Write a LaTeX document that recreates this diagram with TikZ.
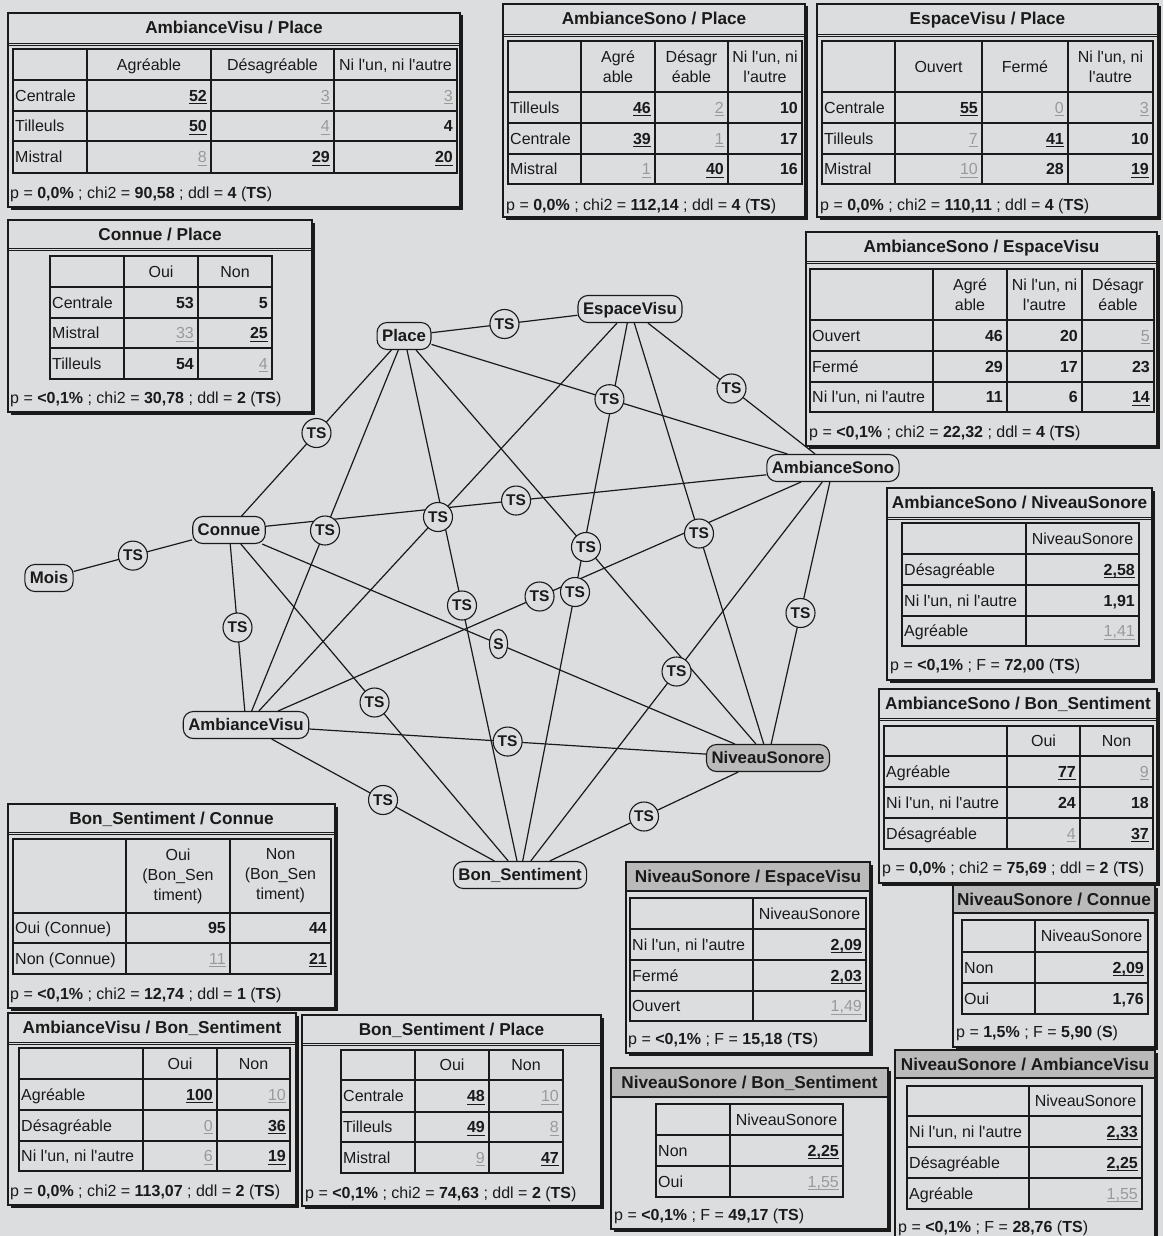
\documentclass[tikz,border=0pt]{standalone}
\usepackage{fontspec}
\defaultfontfeatures[\rmfamily,\sffamily]{}
\setmainfont{Liberation Sans}
\usetikzlibrary{shapes.geometric}
\definecolor{bgc}{HTML}{DCDDDF}
\definecolor{ink}{HTML}{1A1A1A}
\definecolor{numg}{HTML}{9A9A9A}
\definecolor{bandg}{HTML}{BABABA}
\newcounter{cc}
\newcommand{\ulx}[1]{\setbox0=\hbox{#1}\rlap{\copy0}\rule[-3pt]{\wd0}{1.1pt}}
\newcommand{\vB}[1]{\ulx{\textbf{#1}}}
\newcommand{\vN}[1]{\textbf{#1}}
\newcommand{\vG}[1]{\textcolor{numg}{\ulx{#1}}}
\newcommand{\cLb}[3]{\stepcounter{cc}\node[lbl] (c\arabic{cc}) at (#1,#2) {#3};}
\newcommand{\cVl}[3]{\stepcounter{cc}\node[vl] (c\arabic{cc}) at (#1,#2) {#3};}
\newcommand{\cHd}[3]{\stepcounter{cc}\node[hd] (c\arabic{cc}) at (#1,#2) {#3};}
\newcommand{\cMH}[3]{\stepcounter{cc}\node[mh] (c\arabic{cc}) at (#1,#2) {#3};}
\newcommand{\tbFrame}[6]{%
  \fill[ink] ({#1+2.5},{#2+2.5}) rectangle ({#3+2.5},{#4+2.5});
  \draw[fr] (#1,#2) rectangle (#3,#4);
  \draw[ink,line width=0.9pt] (#1,#5) -- (#3,#5);
  \draw[ink,line width=0.9pt] (#1,{#5+2.5}) -- (#3,{#5+2.5});
  \stepcounter{cc}\node[ttl] (c\arabic{cc}) at ({(#1+#3)/2},{(#2+#5)/2}) {#6};}
\newcommand{\tbGFrame}[6]{%
  \fill[ink] ({#1+2.5},{#2+2.5}) rectangle ({#3+2.5},{#4+2.5});
  \draw[fr] (#1,#2) rectangle (#3,#4);
  \draw[fr,fill=bandg] (#1,#2) rectangle (#3,#5);
  \stepcounter{cc}\node[ttl] (c\arabic{cc}) at ({(#1+#3)/2},{(#2+#5)/2}) {#6};}
\newcommand{\tbGrid}[6]{%
  \foreach \q in {#1} {\draw[gl] (\q,#5) -- (\q,#6);}
  \foreach \q in {#2} {\draw[gl] (#3,\q) -- (#4,\q);}}
\newcommand{\pchi}[4]{p = \textbf{#1} ; chi2 = \textbf{#2} ; ddl = \textbf{#3} (\textbf{#4})}
\newcommand{\pF}[3]{p = \textbf{#1} ; F = \textbf{#2} (\textbf{#3})}
\begin{document}
\begin{tikzpicture}[x=1pt,y=-1pt,
  every node/.style={font=\fontsize{16}{19}\selectfont, text=ink},
  fr/.style={draw=ink, line width=1.1pt, fill=bgc},
  gl/.style={draw=ink, line width=1.3pt, line cap=rect},
  lbl/.style={anchor=west, inner sep=0pt, text height=11.5pt, text depth=0pt},
  vl/.style={anchor=east, inner sep=0pt, text height=11.5pt, text depth=0pt},
  hd/.style={anchor=center, inner sep=0pt, text height=11.5pt, text depth=0pt},
  mh/.style={anchor=center, inner sep=0pt, align=center, font=\fontsize{16}{20}\selectfont},
  ttl/.style={anchor=center, inner sep=0pt, text height=12pt, text depth=0pt, font=\fontsize{17.2}{19}\selectfont\bfseries},
  vnode/.style={draw=ink, line width=1.1pt, rounded corners=10pt, fill=bgc, minimum height=27pt, inner xsep=5pt, inner ysep=0pt, text height=11.5pt, text depth=0pt, font=\fontsize{16.8}{19}\selectfont\bfseries},
  ts/.style={circle, draw=ink, line width=1.1pt, fill=bgc, minimum size=29pt, inner sep=0pt, font=\fontsize{15.5}{17}\selectfont\bfseries},
  sl/.style={ellipse, draw=ink, line width=1.1pt, fill=bgc, minimum width=18pt, minimum height=29pt, inner sep=0pt, font=\fontsize{15.5}{17}\selectfont\bfseries},
  lnk/.style={draw=ink, line width=1.2pt}]
\useasboundingbox (0,0) rectangle (1163,1236);
\fill[bgc] (0,0) rectangle (1163,1236);
\clip (0,0) rectangle (1163,1236);

% ---------------- graph ----------------
\node[vnode] (place) at (404,336) {Place};
\node[vnode] (espace) at (630,309) {EspaceVisu};
\node[vnode] (asono) at (833,468) {AmbianceSono};
\node[vnode] (connue) at (229,530) {Connue};
\node[vnode] (mois) at (49,578) {Mois};
\node[vnode] (avisu) at (246,725) {AmbianceVisu};
\node[vnode, fill=bandg] (niveau) at (768,758) {NiveauSonore};
\node[vnode] (bon) at (520,875) {Bon\_Sentiment};

\draw[lnk] (place) -- coordinate[pos=0.5] (m1) (espace);
\draw[lnk] (place) -- coordinate[pos=0.5] (m2) (connue);
\draw[lnk] (place) -- coordinate[pos=0.5] (m3) (asono);
\draw[lnk] (place) -- coordinate[pos=0.5] (m4) (avisu);
\draw[lnk] (place) -- coordinate[pos=0.5] (m5) (bon);
\draw[lnk] (place) -- coordinate[pos=0.5] (m6) (niveau);
\draw[lnk] (espace) -- coordinate[pos=0.5] (m7) (asono);
\draw[lnk] (espace) -- coordinate[pos=0.5] (m8) (avisu);
\draw[lnk] (espace) -- coordinate[pos=0.5] (m9) (bon);
\draw[lnk] (espace) -- coordinate[pos=0.5] (m10) (niveau);
\draw[lnk] (connue) -- coordinate[pos=0.5] (m11) (asono);
\draw[lnk] (asono) -- coordinate[pos=0.5] (m12) (avisu);
\draw[lnk] (asono) -- coordinate[pos=0.5] (m13) (niveau);
\draw[lnk] (asono) -- coordinate[pos=0.5] (m14) (bon);
\draw[lnk] (mois) -- coordinate[pos=0.5] (m15) (connue);
\draw[lnk] (connue) -- coordinate[pos=0.5] (m16) (avisu);
\draw[lnk] (connue) -- coordinate[pos=0.5] (m17) (niveau);
\draw[lnk] (connue) -- coordinate[pos=0.5] (m18) (bon);
\draw[lnk] (avisu) -- coordinate[pos=0.5] (m19) (niveau);
\draw[lnk] (avisu) -- coordinate[pos=0.5] (m20) (bon);
\draw[lnk] (niveau) -- coordinate[pos=0.5] (m21) (bon);

\foreach \i in {1,...,16,18,19,20,21} {\node[ts] (l\i) at (m\i) {TS};}
\node[sl] (l17) at (m17) {S};

% ---------------- A: AmbianceVisu / Place ----------------
\tbFrame{8}{13}{460}{207}{43}{AmbianceVisu / Place}
\tbGrid{13,87,211,334,457}{49,80,111,141,173}{13}{457}{49}{173}
\cHd{149}{64.5}{Agréable} \cHd{272.5}{64.5}{Désagréable} \cHd{395.5}{64.5}{Ni l'un, ni l'autre}
\cLb{15}{95.5}{Centrale} \cVl{207}{95.5}{\vB{52}} \cVl{330}{95.5}{\vG{3}} \cVl{453}{95.5}{\vG{3}}
\cLb{15}{126}{Tilleuls} \cVl{207}{126}{\vB{50}} \cVl{330}{126}{\vG{4}} \cVl{453}{126}{\vN{4}}
\cLb{15}{157}{Mistral} \cVl{207}{157}{\vG{8}} \cVl{330}{157}{\vB{29}} \cVl{453}{157}{\vB{20}}
\cLb{10}{193}{\pchi{0,0\%}{90,58}{4}{TS}}

% ---------------- B: AmbianceSono / Place ----------------
\tbFrame{503}{4}{805}{217}{34}{AmbianceSono / Place}
\tbGrid{508,581,655,728,802}{41,92,123,154,184}{508}{802}{41}{184}
\cMH{618}{66.5}{Agré\\able} \cMH{691.5}{66.5}{Désagr\\éable} \cMH{765}{66.5}{Ni l'un, ni\\l'autre}
\cLb{510}{107.5}{Tilleuls} \cVl{651}{107.5}{\vB{46}} \cVl{724}{107.5}{\vG{2}} \cVl{798}{107.5}{\vN{10}}
\cLb{510}{138.5}{Centrale} \cVl{651}{138.5}{\vB{39}} \cVl{724}{138.5}{\vG{1}} \cVl{798}{138.5}{\vN{17}}
\cLb{510}{169}{Mistral} \cVl{651}{169}{\vG{1}} \cVl{724}{169}{\vB{40}} \cVl{798}{169}{\vN{16}}
\cLb{506}{205}{\pchi{0,0\%}{112,14}{4}{TS}}

% ---------------- C: EspaceVisu / Place ----------------
\tbFrame{817}{4}{1158}{217}{34}{EspaceVisu / Place}
\tbGrid{822,895,982,1068,1153}{41,92,123,154,184}{822}{1153}{41}{184}
\cHd{938.5}{66.5}{Ouvert} \cHd{1025}{66.5}{Fermé} \cMH{1110.5}{66.5}{Ni l'un, ni\\l'autre}
\cLb{824}{107.5}{Centrale} \cVl{978}{107.5}{\vB{55}} \cVl{1064}{107.5}{\vG{0}} \cVl{1149}{107.5}{\vG{3}}
\cLb{824}{138.5}{Tilleuls} \cVl{978}{138.5}{\vG{7}} \cVl{1064}{138.5}{\vB{41}} \cVl{1149}{138.5}{\vN{10}}
\cLb{824}{169}{Mistral} \cVl{978}{169}{\vG{10}} \cVl{1064}{169}{\vN{28}} \cVl{1149}{169}{\vB{19}}
\cLb{820}{205}{\pchi{0,0\%}{110,11}{4}{TS}}

% ---------------- D: Connue / Place ----------------
\tbFrame{8}{220}{312}{412}{248}{Connue / Place}
\tbGrid{50,124,198,272}{256,287,318,348,379}{50}{272}{256}{379}
\cHd{161}{271.5}{Oui} \cHd{235}{271.5}{Non}
\cLb{52}{302.5}{Centrale} \cVl{194}{302.5}{\vN{53}} \cVl{268}{302.5}{\vN{5}}
\cLb{52}{333}{Mistral} \cVl{194}{333}{\vG{33}} \cVl{268}{333}{\vB{25}}
\cLb{52}{363.5}{Tilleuls} \cVl{194}{363.5}{\vN{54}} \cVl{268}{363.5}{\vG{4}}
\cLb{10}{398}{\pchi{<0,1\%}{30,78}{2}{TS}}

% ---------------- E: AmbianceSono / EspaceVisu ----------------
\tbFrame{806}{232}{1157}{446}{261}{AmbianceSono / EspaceVisu}
\tbGrid{810,933,1007,1082,1154}{269,320,351,382,412}{810}{1154}{269}{412}
\cMH{970}{294.5}{Agré\\able} \cMH{1044.5}{294.5}{Ni l'un, ni\\l'autre} \cMH{1118}{294.5}{Désagr\\éable}
\cLb{812}{335.5}{Ouvert} \cVl{1003}{335.5}{\vN{46}} \cVl{1078}{335.5}{\vN{20}} \cVl{1150}{335.5}{\vG{5}}
\cLb{812}{366.5}{Fermé} \cVl{1003}{366.5}{\vN{29}} \cVl{1078}{366.5}{\vN{17}} \cVl{1150}{366.5}{\vN{23}}
\cLb{812}{397}{Ni l'un, ni l'autre} \cVl{1003}{397}{\vN{11}} \cVl{1078}{397}{\vN{6}} \cVl{1150}{397}{\vB{14}}
\cLb{809}{432}{\pchi{<0,1\%}{22,32}{4}{TS}}

% ---------------- F: AmbianceSono / NiveauSonore ----------------
\tbFrame{887}{488}{1152}{680}{517}{AmbianceSono / NiveauSonore}
\tbGrid{902,1026,1139}{523,554,585,616,646}{902}{1139}{523}{646}
\cHd{1082.5}{538.5}{NiveauSonore}
\cLb{904}{569.5}{Désagréable} \cVl{1135}{569.5}{\vB{2,58}}
\cLb{904}{600.5}{Ni l'un, ni l'autre} \cVl{1135}{600.5}{\vN{1,91}}
\cLb{904}{631}{Agréable} \cVl{1135}{631}{\vG{1,41}}
\cLb{890}{665}{\pF{<0,1\%}{72,00}{TS}}

% ---------------- G: AmbianceSono / Bon_Sentiment ----------------
\tbFrame{879}{689}{1157}{883}{718}{AmbianceSono / Bon\_Sentiment}
\tbGrid{884,1007,1080,1153}{726,756,787,818,849}{884}{1153}{726}{849}
\cHd{1043.5}{741}{Oui} \cHd{1116.5}{741}{Non}
\cLb{886}{771.5}{Agréable} \cVl{1076}{771.5}{\vB{77}} \cVl{1149}{771.5}{\vG{9}}
\cLb{886}{802.5}{Ni l'un, ni l'autre} \cVl{1076}{802.5}{\vN{24}} \cVl{1149}{802.5}{\vN{18}}
\cLb{886}{833.5}{Désagréable} \cVl{1076}{833.5}{\vG{4}} \cVl{1149}{833.5}{\vB{37}}
\cLb{882}{868}{\pchi{0,0\%}{75,69}{2}{TS}}

% ---------------- H: Bon_Sentiment / Connue ----------------
\tbFrame{8}{804}{335}{1008}{832}{Bon\_Sentiment / Connue}
\tbGrid{13,126,230,331}{839,913,943,974}{13}{331}{839}{974}
\cMH{178}{876}{Oui\\(Bon\_Sen\\timent)} \cMH{280.5}{876}{Non\\(Bon\_Sen\\timent)}
\cLb{15}{928}{Oui (Connue)} \cVl{226}{928}{\vN{95}} \cVl{327}{928}{\vN{44}}
\cLb{15}{958.5}{Non (Connue)} \cVl{226}{958.5}{\vG{11}} \cVl{327}{958.5}{\vB{21}}
\cLb{10}{994}{\pchi{<0,1\%}{12,74}{1}{TS}}

% ---------------- I: AmbianceVisu / Bon_Sentiment ----------------
\tbFrame{8}{1013}{296}{1205}{1042}{AmbianceVisu / Bon\_Sentiment}
\tbGrid{19,143,217,290}{1048,1079,1110,1141,1171}{19}{290}{1048}{1171}
\cHd{180}{1063.5}{Oui} \cHd{253.5}{1063.5}{Non}
\cLb{21}{1094.5}{Agréable} \cVl{213}{1094.5}{\vB{100}} \cVl{286}{1094.5}{\vG{10}}
\cLb{21}{1125.5}{Désagréable} \cVl{213}{1125.5}{\vG{0}} \cVl{286}{1125.5}{\vB{36}}
\cLb{21}{1156}{Ni l'un, ni l'autre} \cVl{213}{1156}{\vG{6}} \cVl{286}{1156}{\vB{19}}
\cLb{10}{1191}{\pchi{0,0\%}{113,07}{2}{TS}}

% ---------------- J: Bon_Sentiment / Place ----------------
\tbFrame{302}{1015}{601}{1206}{1043}{Bon\_Sentiment / Place}
\tbGrid{341,415,489,563}{1050,1080,1112,1142,1173}{341}{563}{1050}{1173}
\cHd{452}{1065}{Oui} \cHd{526}{1065}{Non}
\cLb{343}{1096}{Centrale} \cVl{485}{1096}{\vB{48}} \cVl{559}{1096}{\vG{10}}
\cLb{343}{1127}{Tilleuls} \cVl{485}{1127}{\vB{49}} \cVl{559}{1127}{\vG{8}}
\cLb{343}{1157.5}{Mistral} \cVl{485}{1157.5}{\vG{9}} \cVl{559}{1157.5}{\vB{47}}
\cLb{305}{1193}{\pchi{<0,1\%}{74,63}{2}{TS}}

% ---------------- K: NiveauSonore / EspaceVisu ----------------
\tbGFrame{626}{862}{870}{1053}{891}{NiveauSonore / EspaceVisu}
\tbGrid{630,753,866}{898,929,960,991,1021}{630}{866}{898}{1021}
\cHd{809.5}{913.5}{NiveauSonore}
\cLb{632}{944.5}{Ni l'un, ni l'autre} \cVl{862}{944.5}{\vB{2,09}}
\cLb{632}{975.5}{Fermé} \cVl{862}{975.5}{\vB{2,03}}
\cLb{632}{1006}{Ouvert} \cVl{862}{1006}{\vG{1,49}}
\cLb{628}{1039}{\pF{<0,1\%}{15,18}{TS}}

% ---------------- L: NiveauSonore / Connue ----------------
\tbGFrame{953}{885}{1155}{1047}{913}{NiveauSonore / Connue}
\tbGrid{962,1035,1148}{920,952,983,1014}{962}{1148}{920}{1014}
\cHd{1091.5}{936}{NiveauSonore}
\cLb{964}{967.5}{Non} \cVl{1144}{967.5}{\vB{2,09}}
\cLb{964}{998.5}{Oui} \cVl{1144}{998.5}{\vN{1,76}}
\cLb{956}{1032}{\pF{1,5\%}{5,90}{S}}

% ---------------- M: NiveauSonore / Bon_Sentiment ----------------
\tbGFrame{611}{1068}{888}{1229}{1097}{NiveauSonore / Bon\_Sentiment}
\tbGrid{656,730,843}{1104,1135,1166,1197}{656}{843}{1104}{1197}
\cHd{786.5}{1119.5}{NiveauSonore}
\cLb{658}{1150.5}{Non} \cVl{839}{1150.5}{\vB{2,25}}
\cLb{658}{1181.5}{Oui} \cVl{839}{1181.5}{\vG{1,55}}
\cLb{614}{1215}{\pF{<0,1\%}{49,17}{TS}}

% ---------------- N: NiveauSonore / AmbianceVisu ----------------
\tbGFrame{895}{1050}{1155}{1250}{1078}{NiveauSonore / AmbianceVisu}
\tbGrid{907,1029,1142}{1086,1116,1147,1178,1209}{907}{1142}{1086}{1209}
\cHd{1085.5}{1101}{NiveauSonore}
\cLb{909}{1131.5}{Ni l'un, ni l'autre} \cVl{1138}{1131.5}{\vB{2,33}}
\cLb{909}{1162.5}{Désagréable} \cVl{1138}{1162.5}{\vB{2,25}}
\cLb{909}{1193.5}{Agréable} \cVl{1138}{1193.5}{\vG{1,55}}
\cLb{898}{1227}{\pF{<0,1\%}{28,76}{TS}}
\end{tikzpicture}
\end{document}
